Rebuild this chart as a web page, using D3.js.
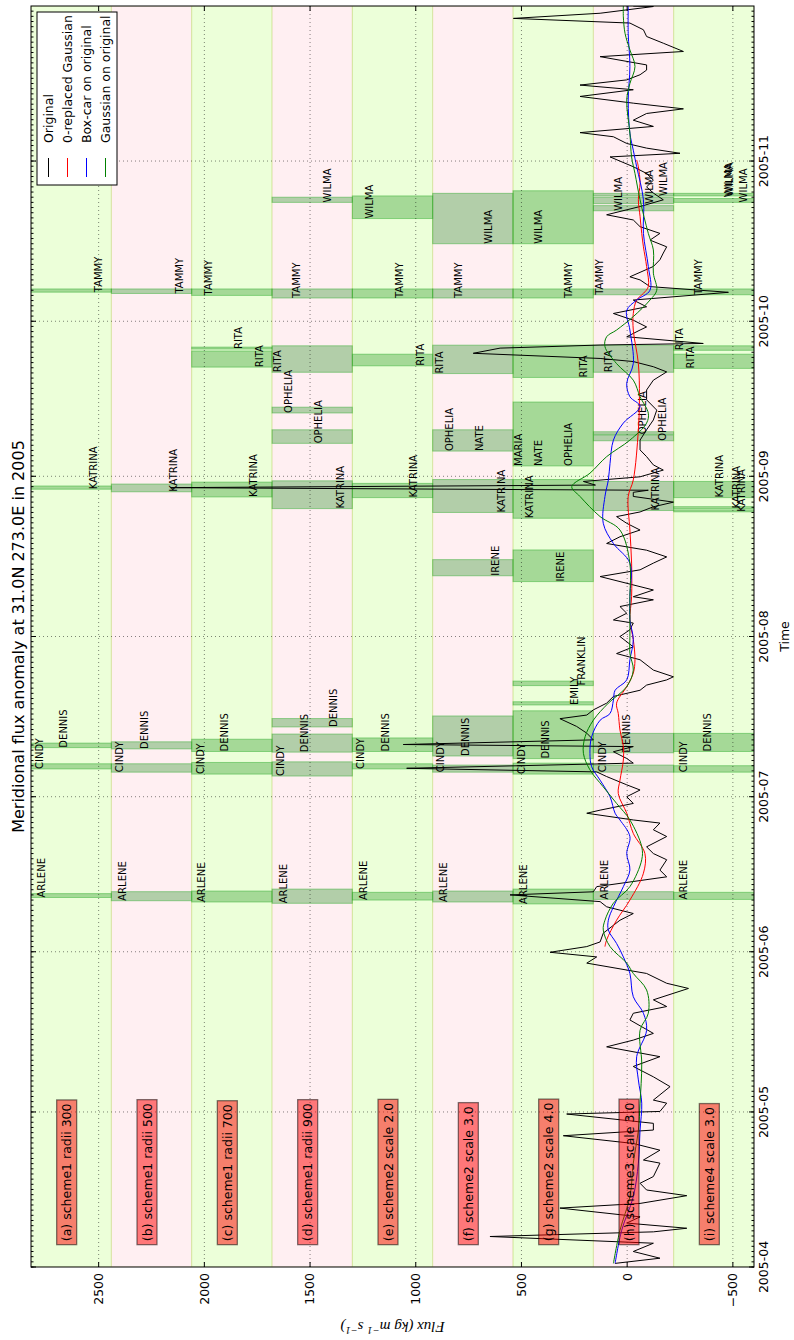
<!DOCTYPE html>
<html>
<head>
<meta charset="utf-8">
<script src="https://cdn.jsdelivr.net/npm/d3@7"></script>
<style>
  body { margin: 0; background: #fff; }
  svg { display: block; font-family: "DejaVu Sans", sans-serif; }
</style>
</head>
<body>
<svg id="fig" width="794" height="1340"></svg>
<script>
// ---------------- data ----------------
const timeStart = "2005-04-01 00";
const timeEnd = "2005-12-01 00";
const fluxMin = -600, fluxMax = 2820;
const fluxTicks = [-500, 0, 500, 1000, 1500, 2000, 2500];

// experiment panels stacked along the flux axis, top to bottom
const panelEdges = [2820, 2440, 2060, 1680, 1300, 920, 540, 160, -220, -600];
const panelNames = [
  "(a) scheme1 radii 300", "(b) scheme1 radii 500", "(c) scheme1 radii 700",
  "(d) scheme1 radii 900", "(e) scheme2 scale 2.0", "(f) scheme2 scale 3.0",
  "(g) scheme2 scale 4.0", "(h) scheme3 scale 3.0", "(i) scheme4 scale 3.0"
];
const panelLabelDate = "2005-04-06 00";

// storm windows per panel: [name, start, end, label level]; end null = label only
const stormsA = [
  ["ARLENE", "2005-06-11 12", "2005-06-12 06", 2754],
  ["CINDY", "2005-07-06 09", "2005-07-07 09", 2765],
  ["DENNIS", "2005-07-10 12", "2005-07-11 09", 2648],
  ["KATRINA", "2005-08-29 12", "2005-08-30 03", 2509],
  ["TAMMY", "2005-10-06 15", "2005-10-07 06", 2486]
];
const stormsB = [
  ["ARLENE", "2005-06-10 21", "2005-06-12 15", 2372],
  ["CINDY", "2005-07-05 18", "2005-07-07 09", 2383],
  ["DENNIS", "2005-07-10 06", "2005-07-11 15", 2265],
  ["KATRINA", "2005-08-29 00", "2005-08-30 12", 2131],
  ["TAMMY", "2005-10-06 09", "2005-10-07 06", 2102]
];
const stormsC = [
  ["ARLENE", "2005-06-10 15", "2005-06-12 18", 1997],
  ["CINDY", "2005-07-05 09", "2005-07-07 15", 2002],
  ["DENNIS", "2005-07-09 18", "2005-07-12 03", 1887],
  ["KATRINA", "2005-08-28 00", "2005-08-30 21", 1750],
  ["RITA", "2005-09-22 03", "2005-09-25 06", 1721],
  ["RITA", "2005-09-25 15", "2005-09-26 00", 1823],
  ["TAMMY", "2005-10-06 00", "2005-10-07 06", 1965]
];
const stormsD = [
  ["ARLENE", "2005-06-10 09", "2005-06-13 03", 1610],
  ["CINDY", "2005-07-05 00", "2005-07-07 18", 1623],
  ["DENNIS", "2005-07-09 15", "2005-07-13 03", 1508],
  ["DENNIS", "2005-07-14 12", "2005-07-16 03", 1371],
  ["KATRINA", "2005-08-25 18", "2005-08-31 03", 1339],
  ["OPHELIA", "2005-09-07 09", "2005-09-10 00", 1442],
  ["OPHELIA", "2005-09-13 06", "2005-09-14 09", 1587],
  ["RITA", "2005-09-21 03", "2005-09-26 06", 1639],
  ["TAMMY", "2005-10-05 12", "2005-10-07 06", 1548],
  ["WILMA", "2005-10-24 00", "2005-10-25 00", 1401]
];
const stormsE = [
  ["ARLENE", "2005-06-11 00", "2005-06-12 12", 1232],
  ["CINDY", "2005-07-06 09", "2005-07-07 09", 1245],
  ["DENNIS", "2005-07-09 18", "2005-07-12 09", 1125],
  ["KATRINA", "2005-08-27 21", "2005-08-30 15", 993],
  ["RITA", "2005-09-22 09", "2005-09-24 15", 961],
  ["TAMMY", "2005-10-05 12", "2005-10-07 06", 1060],
  ["WILMA", "2005-10-20 21", "2005-10-25 06", 1204]
];
const stormsF = [
  ["ARLENE", "2005-06-10 15", "2005-06-12 18", 854],
  ["CINDY", "2005-07-05 18", "2005-07-07 03", 865],
  ["DENNIS", "2005-07-08 21", "2005-07-16 15", 747],
  ["IRENE", "2005-08-12 18", "2005-08-15 21", 606],
  ["KATRINA", "2005-08-25 00", "2005-08-31 09", 578],
  ["OPHELIA", "2005-09-05 21", "2005-09-10 00", 822],
  ["NATE", "2005-09-05 21", null, 680],
  ["RITA", "2005-09-20 21", "2005-09-26 09", 872],
  ["TAMMY", "2005-10-05 12", "2005-10-07 06", 783],
  ["WILMA", "2005-10-16 00", "2005-10-25 18", 641]
];
const stormsG = [
  ["ARLENE", "2005-06-10 06", "2005-06-13 03", 472],
  ["CINDY", "2005-07-05 09", "2005-07-07 12", 483],
  ["DENNIS", "2005-07-08 09", "2005-07-17 15", 368],
  ["EMILY", "2005-07-18 18", "2005-07-19 09", 231],
  ["FRANKLIN", "2005-07-22 12", "2005-07-23 09", 199],
  ["IRENE", "2005-08-11 15", "2005-08-17 18", 299],
  ["KATRINA", "2005-08-23 21", "2005-08-31 09", 444],
  ["MARIA", "2005-09-03 00", "2005-09-15 09", 496],
  ["NATE", "2005-09-03 00", null, 404],
  ["OPHELIA", "2005-09-03 00", null, 262],
  ["RITA", "2005-09-20 03", "2005-09-26 09", 191],
  ["TAMMY", "2005-10-05 12", "2005-10-07 06", 262],
  ["WILMA", "2005-10-16 00", "2005-10-26 06", 404]
];
const stormsH = [
  ["ARLENE", "2005-06-11 03", "2005-06-12 15", 89],
  ["CINDY", "2005-07-05 18", "2005-07-07 03", 101],
  ["DENNIS", "2005-07-09 12", "2005-07-13 06", -14],
  ["KATRINA", "2005-08-25 09", "2005-08-31 00", -151],
  ["OPHELIA", "2005-09-07 21", "2005-09-09 00", -182],
  ["OPHELIA", "2005-09-09 03", "2005-09-09 15", -91],
  ["RITA", "2005-09-21 03", "2005-09-26 09", 70],
  ["TAMMY", "2005-10-06 03", "2005-10-07 06", 116],
  ["WILMA", "2005-10-22 09", "2005-10-23 09", 26],
  ["WILMA", "2005-10-23 18", "2005-10-25 00", -122],
  ["WILMA", "2005-10-25 06", "2005-10-25 18", -187]
];
const stormsI = [
  ["ARLENE", "2005-06-11 03", "2005-06-12 12", -284],
  ["CINDY", "2005-07-05 18", "2005-07-07 00", -282],
  ["DENNIS", "2005-07-09 18", "2005-07-13 06", -395],
  ["KATRINA", "2005-08-25 03", "2005-08-25 12", -557],
  ["KATRINA", "2005-08-25 18", "2005-08-26 03", -534],
  ["KATRINA", "2005-08-27 21", "2005-08-31 00", -455],
  ["RITA", "2005-09-21 21", "2005-09-24 15", -316],
  ["RITA", "2005-09-25 09", "2005-09-26 06", -266],
  ["TAMMY", "2005-10-06 03", "2005-10-07 06", -353],
  ["WILMA", "2005-10-24 00", "2005-10-24 18", -566],
  ["WILMA", "2005-10-25 06", "2005-10-25 18", -502],
  ["WILMA", "2005-10-25 00", null, -495]
];
const stormsByPanel = [stormsA, stormsB, stormsC, stormsD, stormsE, stormsF, stormsG, stormsH, stormsI];

// flux series as [day of year 2005, flux]
const originalSeries = [
  [91.7,57],[92.7,-155],[94.0,-29],[95.6,-124],[96.9,649],[97.8,-124],[98.5,-282],[99.5,2],
  [100.7,-61],[102.4,318],[103.3,-61],[104.8,-282],[105.9,-92],[107.2,-61],[108.5,-124],
  [111.1,-155],[111.7,-77],[113.6,-155],[114.9,-29],[116.4,302],[117.5,-124],[118.8,-124],
  [120.6,286],[121.1,-155],[122.7,-187],[123.3,-124],[125.9,-203],[127.8,-124],[129.8,-29],
  [131.7,-155],[133.6,97],[134.9,-29],[136.2,-124],[138.8,-13],[140.1,-29],[141.4,-187],
  [142.7,-124],[144.9,-290],[145.9,-187],[147.8,-92],[149.8,191],[151.0,144],[151.9,365],
  [153.0,191],[153.9,128],[155.6,113],
  [158.1,34],[159.4,-29],[160.7,97],[161.7,128],[163.0,554],[163.6,160],[164.6,144],
  [166.5,-187],[167.8,-155],[169.8,-187],[171.0,-124],[172.3,-92],[174.3,-187],[175.6,-124],
  [176.9,-155],[177.5,-29],[178.8,191],[179.4,128],[180.7,-29],[182.0,2],[183.3,-61],
  [184.3,2],[185.9,97],[186.8,144],[187.5,1043],[188.5,-29],[189.4,2],[190.7,65],[191.7,-29],
  [192.1,1059],[193.0,160],[194.3,191],[195.6,239],[197.1,318],[197.8,191],[198.8,160],
  [200.1,97],[201.4,65],[202.6,-61],[203.6,-92],[204.6,-187],[205.2,-219],[206.5,-124],
  [208.5,-61],[209.7,50],[211.0,-29],[213.0,34],[214.3,-13],[215.6,-29],
  [216.2,65],[217.5,2],[218.8,34],[220.1,-124],[220.7,-29],[222.0,-124],[224.6,128],
  [225.9,-61],[227.2,-124],[228.4,-187],[229.7,-92],[231.0,97],[232.3,34],[233.6,-61],
  [234.9,2],[236.2,50],[237.1,-61],[238.1,-124],[239.0,-219],[240.1,-29],[240.9,-29],
  [241.3,-100],[241.8,2160],[242.3,150],[243.0,207],[243.9,-61],[245.2,-171],[246.2,-124],
  [247.8,-92],[249.1,-61],[251.0,-61],[253.0,-92],[254.9,-124],[256.8,-140],[258.8,-92],
  [260.7,-92],[262.6,-124],[264.2,-187],[265.2,-124],[266.2,-29],[266.8,128],[267.8,728],
  [268.8,601],[269.4,128],[269.7,-360],[271.0,2],[272.3,-61],
  [272.9,-92],[274.2,-29],[275.5,65],[276.8,-92],[278.1,-29],[279.6,-479],[280.7,-108],
  [282.0,-61],[282.6,-13],[284.6,-124],[285.9,-155],[287.2,-171],[288.4,-187],[289.7,-108],
  [291.0,-155],[292.3,-61],[293.6,-29],[294.6,97],[296.2,-61],[297.5,-171],[298.8,-124],
  [300.0,-92],[301.3,-124],[302.6,-92],[303.9,-29],[305.8,81],[306.5,-250],[307.5,-92],
  [308.4,2],[309.7,65],[310.5,223],[311.7,-124],[312.9,-29],[314.2,-92],[315.1,-266],
  [316.2,-29],[317.5,223],[318.8,-29],[319.7,223],[320.7,2],[321.7,-61],[322.6,-92],
  [323.6,-92],[325.2,128],[326.2,-266],[327.8,-171],[329.1,-92],[330.4,-77],[331.7,-13],
  [332.6,538],[333.6,128],[334.9,-124],[335.0,-29]
];

const zeroGaussSeries = [
  [153.0,105],[154.3,97],[158.1,50],[162.0,-13],[167.2,-77],[171.0,-84],
  [174.9,-29],[178.8,2],[182.6,42],[185.2,34],[189.1,18],[191.7,18],[194.9,34],[198.1,42],
  [200.1,50],[203.3,2],[205.9,-29],[208.5,-37],[212.4,-29],[216.2,-13],[220.7,-21],
  [227.2,-21],[233.6,-13],[240.1,-5],[243.3,-29],[253.0,-53],[259.4,-58],[265.8,-53],
  [272.3,-29],[275.5,-29],[278.1,-45],[279.4,-77],[280.7,-100],[284.6,-92],[288.4,-77],
  [291.0,-69],[294.3,-61],[297.5,-53],[300.7,-61],[303.9,-53],[305.2,-45]
];

const boxcarSeries = [
  [91.7,57],[98.1,26],[104.6,-29],[111.1,-53],[117.5,-61],[122.7,-69],[127.2,-53],
  [131.7,-45],[136.8,-92],[140.1,-77],[143.3,-29],[147.8,-13],[151.0,18],[153.6,50],
  [156.2,89],[158.1,89],[160.7,65],[164.6,18],[167.8,-13],[171.0,2],[174.3,-13],[177.5,34],
  [178.8,57],[182.0,81],[185.2,128],[187.8,168],[190.4,176],[193.6,168],[196.8,128],
  [198.1,81],[200.7,65],[202.6,57],[204.6,2],[208.5,-13],[212.4,-29],[216.2,-13],
  [220.7,-13],[227.2,-13],[231.0,65],[234.9,113],[240.1,105],[243.3,89],[246.5,81],
  [251.0,65],[254.3,18],[257.5,-61],[259.4,-13],[262.0,2],[265.8,-29],[272.3,-13],
  [276.1,2],[278.1,-45],[280.0,-108],[284.6,-100],[291.0,-77],[297.5,-77],[303.9,-45],
  [307.1,-29],[310.4,-13],[316.8,-5],[323.3,-13],[329.7,-5],[335.0,-5]
];

const gaussSeries = [
  [91.7,65],[98.1,34],[104.6,-13],[111.1,-29],[117.5,-53],[122.7,-61],[130.4,-69],
  [136.8,-61],[140.1,-100],[144.6,-92],[147.8,-29],[149.8,2],[153.0,81],[156.2,113],
  [158.1,105],[161.4,65],[164.6,-13],[169.8,-69],[172.3,-69],[177.5,-13],[180.7,50],
  [183.9,113],[187.2,176],[190.4,207],[193.6,199],[196.8,160],[200.1,89],[203.3,2],
  [206.5,-29],[209.7,-13],[213.0,-13],[216.2,-13],[220.7,-13],[227.2,-13],[233.6,34],
  [236.2,128],[240.1,223],[242.0,262],[244.6,176],[247.8,97],[251.0,-13],[254.3,-92],
  [256.2,-100],[259.4,-61],[262.6,-29],[265.8,50],[269.1,105],[271.0,97],[272.3,50],
  [274.9,-29],[278.1,-108],[280.0,-140],[283.3,-124],[287.8,-124],[291.0,-100],
  [297.5,-61],[302.6,-37],[305.8,-21],[310.4,-13],[316.8,2],[320.0,-13],[323.3,-37],
  [326.5,-13],[329.7,10],[332.9,18],[335.0,18]
];

const seriesNames = ["Original", "0-replaced Gaussian", "Box-car on original", "Gaussian on original"];
const seriesColors = ["#000000", "#ff0000", "#0000ff", "#008000"];

// ---------------- layout (landscape figure, turned a quarter turn) ----------------
const W = 1340, H = 794;
const M = {left: 73, right: 6, top: 31, bottom: 40};
const pw = W - M.left - M.right;
const ph = H - M.top - M.bottom;

const parseT = d3.utcParse("%Y-%m-%d %H");
const doyToDate = doy => new Date(Date.UTC(2005, 0, 1) + (doy - 1) * 864e5);

const x = d3.scaleUtc().domain([parseT(timeStart), parseT(timeEnd)]).range([0, pw]);
const y = d3.scaleLinear().domain([fluxMin, fluxMax]).range([ph, 0]);

const svg = d3.select("#fig");
const fig = svg.append("g").attr("transform", `translate(0,${W}) rotate(-90)`);
const plot = fig.append("g").attr("transform", `translate(${M.left},${M.top})`);

plot.append("clipPath").attr("id", "clip")
  .append("rect").attr("width", pw).attr("height", ph);
const inner = plot.append("g").attr("clip-path", "url(#clip)");

// panel background bands
const bandFill = i => i % 2 === 0 ? "rgba(127,255,0,0.15)" : "rgba(255,192,203,0.25)";
inner.selectAll("rect.band").data(d3.range(panelNames.length)).join("rect")
  .attr("class", "band")
  .attr("x", 0).attr("width", pw)
  .attr("y", i => y(panelEdges[i]))
  .attr("height", i => y(panelEdges[i + 1]) - y(panelEdges[i]))
  .attr("fill", bandFill)
  .attr("stroke", "rgba(190,215,110,0.35)").attr("stroke-width", 1);

// storm windows
const stormRows = stormsByPanel.flatMap((rows, p) => rows.map(r => ({
  panel: p, name: r[0], start: parseT(r[1]), end: r[2] ? parseT(r[2]) : null, level: r[3]
})));
inner.selectAll("rect.storm").data(stormRows.filter(d => d.end)).join("rect")
  .attr("class", "storm")
  .attr("x", d => x(d.start))
  .attr("width", d => Math.max(0.5, x(d.end) - x(d.start)))
  .attr("y", d => y(panelEdges[d.panel]))
  .attr("height", d => y(panelEdges[d.panel + 1]) - y(panelEdges[d.panel]))
  .attr("fill", "rgba(0,128,0,0.3)")
  .attr("stroke", "rgba(40,170,40,0.45)").attr("stroke-width", 1);

inner.selectAll("text.storm").data(stormRows).join("text")
  .attr("class", "storm")
  .attr("x", d => x(d.start))
  .attr("y", d => y(d.level))
  .attr("font-size", 10)
  .attr("fill", "#000")
  .text(d => d.name);

// flux series
const lineGen = curve => d3.line().x(d => x(doyToDate(d[0]))).y(d => y(d[1])).curve(curve);
const series = [
  {pts: originalSeries, curve: d3.curveLinear},
  {pts: zeroGaussSeries, curve: d3.curveCatmullRom.alpha(0.5)},
  {pts: boxcarSeries, curve: d3.curveCatmullRom.alpha(0.5)},
  {pts: gaussSeries, curve: d3.curveCatmullRom.alpha(0.5)}
];
series.forEach((s, i) => {
  inner.append("path")
    .attr("d", lineGen(s.curve)(s.pts))
    .attr("fill", "none")
    .attr("stroke", seriesColors[i])
    .attr("stroke-width", 1)
    .attr("stroke-linejoin", "round");
});

// grid
const monthTicks = d3.utcMonth.range(parseT(timeStart), parseT(timeEnd));
const dayTicks = d3.utcDay.range(parseT(timeStart), parseT(timeEnd));
const grid = plot.append("g").attr("stroke", "#000").attr("stroke-width", 0.6)
  .attr("stroke-dasharray", "1,3").attr("opacity", 0.8);
grid.selectAll("line.gx").data(monthTicks.slice(1)).join("line")
  .attr("x1", d => x(d)).attr("x2", d => x(d)).attr("y1", 0).attr("y2", ph);
grid.selectAll("line.gy").data(fluxTicks).join("line")
  .attr("y1", d => y(d)).attr("y2", d => y(d)).attr("x1", 0).attr("x2", pw);

// panel name boxes
const nameG = plot.append("g");
panelNames.forEach((name, i) => {
  const g = nameG.append("g");
  const t = g.append("text")
    .attr("x", x(parseT(panelLabelDate)))
    .attr("y", y((panelEdges[i] + panelEdges[i + 1]) / 2))
    .attr("font-size", 12.5)
    .attr("fill", "#000")
    .text(name);
  const b = t.node().getBBox();
  g.insert("rect", "text")
    .attr("x", b.x - 3.5).attr("y", b.y - 2.5)
    .attr("width", b.width + 7).attr("height", b.height + 5)
    .attr("fill", "rgba(255,0,0,0.5)")
    .attr("stroke", "rgba(0,0,0,0.5)").attr("stroke-width", 1.3);
});

// frame and ticks
const ticks = plot.append("g").attr("stroke", "#000").attr("stroke-width", 1);
ticks.selectAll("line.minx").data(dayTicks).join("line")
  .attr("x1", d => x(d)).attr("x2", d => x(d)).attr("y1", 0).attr("y2", 2.5);
ticks.selectAll("line.minx2").data(dayTicks).join("line")
  .attr("x1", d => x(d)).attr("x2", d => x(d)).attr("y1", ph).attr("y2", ph - 2.5);
ticks.selectAll("line.majx").data(monthTicks).join("line")
  .attr("x1", d => x(d)).attr("x2", d => x(d)).attr("y1", 0).attr("y2", 5);
ticks.selectAll("line.majx2").data(monthTicks).join("line")
  .attr("x1", d => x(d)).attr("x2", d => x(d)).attr("y1", ph).attr("y2", ph - 5);
ticks.selectAll("line.majy").data(fluxTicks).join("line")
  .attr("y1", d => y(d)).attr("y2", d => y(d)).attr("x1", 0).attr("x2", 5);
ticks.selectAll("line.majy2").data(fluxTicks).join("line")
  .attr("y1", d => y(d)).attr("y2", d => y(d)).attr("x1", pw).attr("x2", pw - 5);
plot.append("rect").attr("width", pw).attr("height", ph)
  .attr("fill", "none").attr("stroke", "#000").attr("stroke-width", 1);

// tick labels
const fmt = d3.utcFormat("%Y-%m");
plot.append("g").selectAll("text").data(monthTicks).join("text")
  .attr("x", d => x(d)).attr("y", ph + 14)
  .attr("text-anchor", "middle").attr("font-size", 12.5)
  .text(fmt);
plot.append("g").selectAll("text").data(fluxTicks).join("text")
  .attr("x", -6).attr("y", d => y(d)).attr("dy", "0.35em")
  .attr("text-anchor", "end").attr("font-size", 12.5)
  .text(d => d < 0 ? "\u2212" + Math.abs(d) : d);

// axis titles
fig.append("text")
  .attr("x", M.left + pw / 2).attr("y", 24)
  .attr("text-anchor", "middle").attr("font-size", 16)
  .text("Meridional flux anomaly at 31.0N 273.0E in 2005");
fig.append("text")
  .attr("x", M.left + pw / 2).attr("y", 789)
  .attr("text-anchor", "middle").attr("font-size", 12.5)
  .text("Time");
const yl = fig.append("text")
  .attr("transform", `translate(18,${M.top + ph / 2}) rotate(-90)`)
  .attr("text-anchor", "middle")
  .attr("font-family", "'Liberation Serif', serif")
  .attr("font-style", "italic").attr("font-size", 15);
yl.append("tspan").text("Flux (kg m");
yl.append("tspan").attr("dy", -5).attr("font-size", 10.5).text("\u22121");
yl.append("tspan").attr("dy", 5).text(" s");
yl.append("tspan").attr("dy", -5).attr("font-size", 10.5).text("\u22121");
yl.append("tspan").attr("dy", 5).text(")");

// legend
const lg = plot.append("g").attr("transform", `translate(${pw - 179},${6})`);
lg.append("rect").attr("width", 173).attr("height", 80)
  .attr("fill", "#fff").attr("stroke", "#000").attr("stroke-width", 1);
seriesNames.forEach((name, i) => {
  const yy = 11.5 + i * 19;
  lg.append("line").attr("x1", 8).attr("x2", 27).attr("y1", yy).attr("y2", yy)
    .attr("stroke", seriesColors[i]).attr("stroke-width", 1);
  lg.append("text").attr("x", 42).attr("y", yy).attr("dy", "0.35em")
    .attr("font-size", 12.5).text(name);
});
</script>
</body>
</html>
